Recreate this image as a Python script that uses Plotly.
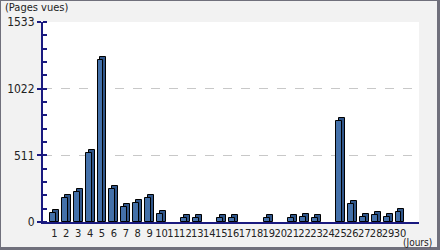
import plotly.graph_objects as go

days = list(range(1, 31))
day_labels = [str(d) for d in days]
page_views = [70, 184, 232, 531, 1242, 250, 113, 143, 182, 61,
              0, 28, 28, 0, 28, 28, 0, 0, 28, 0,
              28, 35, 28, 0, 774, 138, 41, 51, 41, 77]
y_ticks = [0, 511, 1022, 1533]
y_max = 1533

FONT = "Liberation Sans Narrow, DejaVu Sans Condensed, Arial Narrow, sans-serif"
W, H = 440, 250
L, R, T, B = 43, 21, 22, 28
pw, ph = W - L - R, H - T - B
px_per_unit_x = 11.92
x0 = 1 - (54.3 - L) / px_per_unit_x
x1 = x0 + pw / px_per_unit_x
depth_y = 3 * y_max / ph  # 3px in data units

front_w = 0.5
side_shift = 0.25

back_vals = [v + depth_y if v > 0 else None for v in page_views]
front_vals = [v if v > 0 else None for v in page_views]

fig = go.Figure()
fig.add_trace(go.Bar(
    x=days, y=back_vals, width=front_w, offset=-0.375 + side_shift,
    marker=dict(color="#30568a", line=dict(color="black", width=1)),
    hoverinfo="skip", showlegend=False))
fig.add_trace(go.Bar(
    x=days, y=front_vals, width=front_w, offset=-0.375,
    marker=dict(color="#4471aa", line=dict(color="black", width=1)),
    showlegend=False))

fig.update_layout(
    width=W, height=H,
    margin=dict(l=L, r=R, t=T, b=B, autoexpand=False),
    paper_bgcolor="#f2f2f2", plot_bgcolor="white",
    barmode="overlay", bargap=0,
    font=dict(family=FONT, size=12, color="#222"),
    xaxis=dict(range=[x0, x1], tickvals=days, ticktext=day_labels,
               showgrid=False, zeroline=False, ticks="", tickangle=0,
               automargin=False,
               showline=True, linecolor="#1a1a80", linewidth=1.5,
               tickfont=dict(size=11, family=FONT, color="#222")),
    yaxis=dict(range=[0, y_max], tickvals=y_ticks, automargin=False,
               showgrid=True, gridcolor="#c8c8c8", griddash="dash", gridwidth=1,
               zeroline=False, showline=True, linecolor="#1a1a80", linewidth=2,
               ticks="outside", ticklen=4, tickcolor="#1a1a80", tickwidth=1.5,
               minor=dict(dtick=102.2, tick0=0, ticks="inside", ticklen=4,
                          tickcolor="#1a1a80", tickwidth=1.5, showgrid=False),
               tickfont=dict(size=12, family=FONT, color="#222")),
    annotations=[
        dict(text="(Pages vues)", xref="paper", yref="paper",
             x=(3 - L) / pw, y=(H - 8 - B) / ph, xanchor="left", yanchor="middle",
             showarrow=False, font=dict(size=11, family=FONT, color="#222")),
        dict(text="(Jours)", xref="paper", yref="paper",
             x=(434 - L) / pw, y=(H - 242.5 - B) / ph, xanchor="right", yanchor="middle",
             showarrow=False, font=dict(size=10, family=FONT, color="#222")),
    ],
)

def px_rect(xa, ya, xb, yb, color):
    fig.add_shape(type="rect", xref="paper", yref="paper",
                  x0=(xa - L) / pw, x1=(xb - L) / pw,
                  y0=(H - B - yb) / ph, y1=(H - B - ya) / ph,
                  fillcolor=color, line=dict(width=0), layer="above")

border = "#70707c"
px_rect(0, 0, W, 1, border)
px_rect(0, 0, 1, H, border)
px_rect(437, 0, W, H, border)
px_rect(0, 247, W, H, border)

fig.write_html("out.html")
